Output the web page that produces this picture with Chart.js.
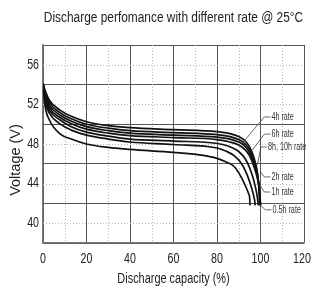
<!doctype html>
<html lang="en">
  <head>
    <meta charset="utf-8">
    <title>Discharge performance</title>
    <style>
      * { margin: 0; padding: 0; }
      body { background: #fff; width: 311px; height: 289px; overflow: hidden; }
      .chartBox { width: 311px; height: 289px; }
    </style>
  </head>
  <body>
    <div class="chartBox">
      <canvas id="myChart" width="311" height="289"></canvas>
    </div>
    <script src="https://cdn.jsdelivr.net/npm/chart.js/dist/chart.umd.min.js"></script>
    <script>
    // data: capacity (%) and voltage (V) per rate
    const rateNames = ['4h rate', '6h rate', '8h rate', '10h rate', '2h rate', '1h rate', '0.5h rate'];

    const cap4h  = [0, 1, 3, 8, 13, 20, 30, 40, 60, 80, 86, 90, 93, 95, 97, 98.5, 99.3, 99.6];
    const volt4h = [54.1, 53.4, 52.4, 51.4, 50.8, 50.25, 49.85, 49.65, 49.45, 49.25, 49.05, 48.75, 48.3, 47.7, 46.6, 45.2, 43.4, 41.8];

    const cap6h  = [0, 1, 3, 8, 13, 20, 30, 40, 60, 80, 86, 90, 93, 95, 97, 98.7, 99.5, 99.8];
    const volt6h = [54.1, 53.2, 52.15, 51.15, 50.55, 50.0, 49.6, 49.35, 49.15, 48.95, 48.75, 48.45, 48.0, 47.4, 46.3, 44.8, 43.2, 41.8];

    const cap8h  = [0, 1, 3, 8, 13, 20, 30, 40, 60, 80, 86, 90, 93, 95, 97, 98.8, 99.7, 100];
    const volt8h = [54.1, 53.0, 51.9, 50.9, 50.3, 49.75, 49.35, 49.1, 48.9, 48.7, 48.5, 48.2, 47.75, 47.1, 46.0, 44.5, 43.0, 41.8];

    const cap10h  = [0, 1, 3, 8, 13, 20, 30, 40, 60, 80, 86, 90, 93, 95, 97, 98.8, 99.7, 100];
    const volt10h = [54.1, 52.8, 51.65, 50.65, 50.05, 49.5, 49.1, 48.85, 48.65, 48.45, 48.2, 47.9, 47.4, 46.8, 45.7, 44.3, 42.9, 41.8];

    const cap2h  = [0, 1, 3, 8, 13, 20, 30, 40, 60, 80, 85, 89, 92, 94, 96, 97.5, 98.5, 99];
    const volt2h = [54.1, 52.6, 51.4, 50.4, 49.75, 49.2, 48.8, 48.5, 48.3, 48.05, 47.8, 47.4, 46.8, 46.1, 45.0, 43.8, 42.7, 41.8];

    const cap1h  = [0, 1, 3, 8, 13, 20, 30, 40, 60, 80, 84, 88, 91, 93, 95, 96.5, 97.3, 97.6];
    const volt1h = [54.1, 52.3, 51.1, 50.0, 49.4, 48.9, 48.5, 48.2, 47.95, 47.6, 47.3, 46.8, 46.1, 45.3, 44.2, 43.1, 42.3, 41.8];

    const cap05h  = [0, 1, 3, 8, 13, 20, 30, 40, 60, 72, 80, 84, 88, 91, 93, 94.5, 95, 95.2];
    const volt05h = [54.1, 51.8, 50.4, 49.0, 48.5, 48.0, 47.65, 47.45, 47.15, 46.9, 46.55, 46.2, 45.7, 44.7, 43.8, 43.0, 42.6, 41.8];

    const xTicks = [0, 20, 40, 60, 80, 100, 120];
    const yTicks = [40, 44, 48, 52, 56];

    // callouts: label text, label anchor and leader end, in data units
    const callouts = [
      { text: '4h rate',      at: [105.0, 50.73], to: [91.7, 48.1] },
      { text: '6h rate',      at: [105.0, 49.0],  to: [96.3, 47.4] },
      { text: '8h, 10h rate', at: [103.4, 47.7],  to: [98.6, 45.9] },
      { text: '2h rate',      at: [105.0, 44.67], to: [100.0, 45.2] },
      { text: '1h rate',      at: [105.0, 43.15], to: [99.5, 43.9] },
      { text: '0.5h rate',    at: [105.5, 41.35], to: [99.5, 41.9] }
    ];

    const caps = [cap4h, cap6h, cap8h, cap10h, cap2h, cap1h, cap05h];
    const volts = [volt4h, volt6h, volt8h, volt10h, volt2h, volt1h, volt05h];

    const data = {
      datasets: rateNames.map((name, k) => ({
        label: name,
        data: caps[k].map((c, i) => ({ x: c, y: volts[k][i] })),
        borderColor: '#111',
        borderWidth: 1.7,
        pointRadius: 0,
        cubicInterpolationMode: 'monotone',
        fill: false
      }))
    };

    // narrow text helper (the picture uses a condensed face)
    function narrowText(ctx, text, x, y, size, sx, align, rot) {
      ctx.save();
      ctx.translate(x, y);
      if (rot) ctx.rotate(rot);
      ctx.scale(sx, 1);
      ctx.font = size + 'px "Liberation Sans", Arial, sans-serif';
      ctx.textAlign = align;
      ctx.textBaseline = 'middle';
      ctx.fillText(text, 0, 0);
      ctx.restore();
    }

    // dotted minor grid
    const minorGrid = {
      id: 'minorGrid',
      beforeDatasetsDraw(chart) {
        const { ctx, chartArea: { left, right, top, bottom }, scales: { x, y } } = chart;
        ctx.save();
        ctx.lineWidth = 1;
        ctx.strokeStyle = '#b8b8b8';
        ctx.setLineDash([1, 2]);
        ctx.beginPath();
        for (let v = 10; v < 120; v += 20) {
          const px = Math.round(x.getPixelForValue(v)) + 0.5;
          ctx.moveTo(px, top); ctx.lineTo(px, bottom);
        }
        yTicks.forEach(v => {
          const py = Math.round(y.getPixelForValue(v)) + 0.5;
          ctx.moveTo(left, py); ctx.lineTo(right, py);
        });
        ctx.stroke();
        ctx.restore();
      }
    };

    // texts, ticks and callouts
    const texts = {
      id: 'texts',
      afterDraw(chart) {
        const { ctx, chartArea: { left, right, top, bottom }, scales: { x, y } } = chart;
        ctx.save();
        ctx.fillStyle = '#222';
        narrowText(ctx, 'Discharge perfomance with different rate @ 25°C', (left + right) / 2, 18, 14, 0.85, 'center');
        xTicks.forEach(v => narrowText(ctx, String(v), Math.min(x.getPixelForValue(v), 302), 259, 14, 0.76, 'center'));
        yTicks.forEach(v => narrowText(ctx, String(v), 39, y.getPixelForValue(v), 14, 0.76, 'right'));
        narrowText(ctx, 'Discharge capacity (%)', (left + right) / 2, 279, 14, 0.78, 'center');
        narrowText(ctx, 'Voltage (V)', 16, 160, 14.5, 1, 'center', -Math.PI / 2);

        ctx.strokeStyle = '#444';
        ctx.lineWidth = 0.8;
        ctx.fillStyle = '#333';
        callouts.forEach(c => {
          const tx = x.getPixelForValue(c.at[0]);
          const ty = y.getPixelForValue(c.at[1]);
          ctx.beginPath();
          ctx.moveTo(tx - 1, ty);
          ctx.lineTo(tx - 7, ty);
          ctx.lineTo(x.getPixelForValue(c.to[0]), y.getPixelForValue(c.to[1]));
          ctx.stroke();
          narrowText(ctx, c.text, tx, ty, 10, 0.72, 'left');
        });
        ctx.restore();
      }
    };

    const config = {
      type: 'line',
      data,
      options: {
        responsive: false,
        animation: false,
        layout: { padding: { left: 43, right: 7, top: 45, bottom: 46 } },
        scales: {
          x: {
            type: 'linear',
            min: 0, max: 120,
            ticks: { stepSize: 20, display: false },
            grid: { color: '#555', lineWidth: 1, drawTicks: false },
            border: { color: '#777', width: 1.5 },
            afterFit: s => { s.height = 0; }
          },
          y: {
            min: 38, max: 58,
            ticks: { stepSize: 4, display: false },
            grid: { color: '#555', lineWidth: 1, drawTicks: false },
            border: { color: '#777', width: 1.5 },
            afterFit: s => { s.width = 0; }
          }
        },
        plugins: {
          legend: { display: false },
          tooltip: { enabled: false }
        }
      },
      plugins: [minorGrid, texts]
    };

    const myChart = new Chart(document.getElementById('myChart'), config);
    </script>
  </body>
</html>
